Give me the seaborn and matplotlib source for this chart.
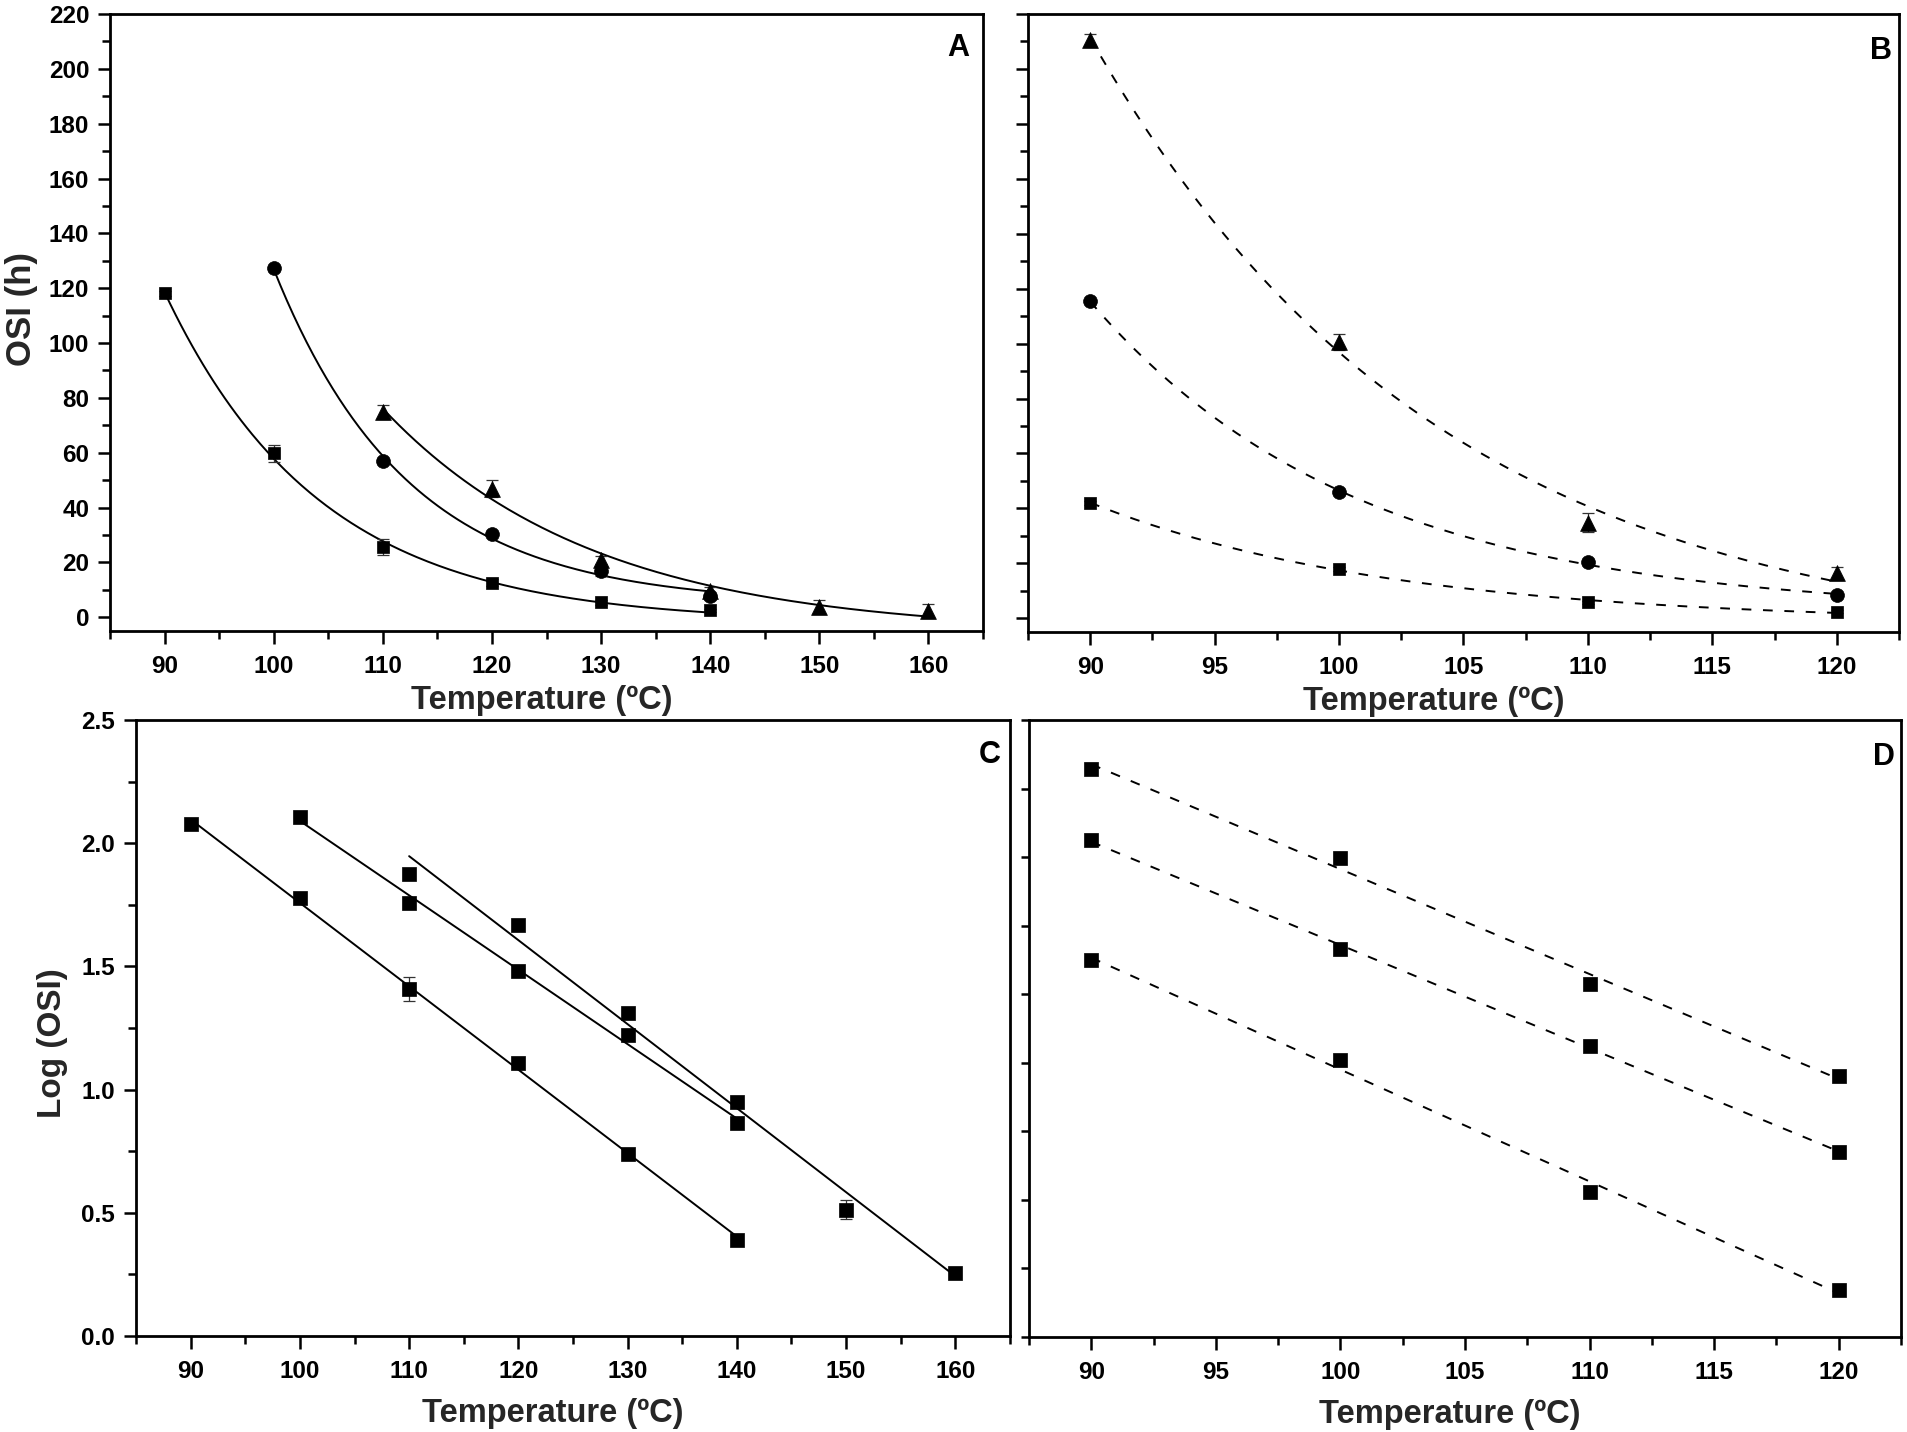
import numpy as np
import pandas as pd
import seaborn as sns
import matplotlib.pyplot as plt
from matplotlib.ticker import MultipleLocator

# ---- panel A : OSI (h) vs temperature, three oils ----
temp_sq_a = [90, 100, 110, 120, 130, 140]
osi_sq_a = [118.1, 59.8, 25.7, 12.6, 5.4, 2.5]
err_sq_a = [1.0, 3.0, 3.0, 1.2, 0.8, 0.6]
temp_ci_a = [100, 110, 120, 130, 140]
osi_ci_a = [127.4, 57.0, 30.5, 16.8, 7.6]
err_ci_a = [1.0, 1.2, 1.0, 1.8, 1.2]
temp_tr_a = [110, 120, 130, 140, 150, 160]
osi_tr_a = [74.9, 46.9, 21.0, 9.7, 3.9, 2.2]
err_tr_a = [2.5, 3.0, 1.5, 1.5, 2.5, 2.5]

# ---- panel B ----
temp_b = [90, 100, 110, 120]
osi_sq_b = [42.0, 17.9, 5.8, 2.4]
osi_ci_b = [115.4, 46.0, 20.5, 8.3]
osi_tr_b = [210.6, 100.5, 34.8, 16.3]
err_sq_b = [0.8, 0.8, 0.6, 0.5]
err_ci_b = [1.0, 1.0, 1.0, 0.8]
err_tr_b = [2.0, 3.0, 3.5, 2.5]

# ---- panel C : log(OSI) of panel A ----
log_sq_c = [2.077, 1.777, 1.408, 1.109, 0.740, 0.389]
log_ci_c = [2.107, 1.756, 1.483, 1.222, 0.864]
log_tr_c = [1.875, 1.669, 1.310, 0.949, 0.513, 0.254]
err_sq_c = [0.01, 0.02, 0.05, 0.02, 0.01, 0.01]
err_ci_c = [0.01, 0.02, 0.02, 0.02, 0.02]
err_tr_c = [0.02, 0.02, 0.02, 0.02, 0.04, 0.02]

# ---- panel D : log(OSI) of panel B ----
log_tr_d = [2.323, 1.997, 1.538, 1.201]
log_ci_d = [2.063, 1.664, 1.312, 0.926]
log_sq_d = [1.623, 1.259, 0.780, 0.423]
err_tr_d = [0.02, 0.02, 0.02, 0.02]

sns.set_theme(style='ticks')
plt.rcParams['font.family'] = ['Liberation Sans', 'DejaVu Sans']
plt.rcParams['font.weight'] = 'bold'
plt.rcParams['axes.labelweight'] = 'bold'
plt.rcParams['axes.linewidth'] = 2.0
plt.rcParams['axes.edgecolor'] = 'black'

W, H = 1908, 1432
def box(l, t, r, b):
    return [l / W, 1 - b / H, (r - l) / W, (b - t) / H]

fig = plt.figure(figsize=(W / 100, H / 100), dpi=100)
ax_a = fig.add_axes(box(110, 14, 983, 631))
ax_b = fig.add_axes(box(1028, 14, 1899, 632))
ax_c = fig.add_axes(box(136, 720, 1010, 1336))
ax_d = fig.add_axes(box(1029, 720, 1901, 1337))

dash = (0, (5, 6))


def exp_curve(x, y):
    # y0 + A*exp(b*x) fit: scan b, solve y0 and A by least squares
    x = np.asarray(x, float)
    y = np.asarray(y, float)
    best = None
    for b in np.linspace(-0.4, -0.005, 4000):
        X = np.column_stack([np.ones_like(x), np.exp(b * (x - x[0]))])
        coef = np.linalg.lstsq(X, y, rcond=None)[0]
        r = np.sum((X @ coef - y) ** 2)
        if best is None or r < best[0]:
            best = (r, b, coef)
    _, b, coef = best
    grid = np.linspace(x.min(), x.max(), 200)
    return pd.DataFrame({'t': grid,
                         'osi': coef[0] + coef[1] * np.exp(b * (grid - x[0]))})


def points(ax, x, y, err, marker, s):
    ax.errorbar(x, y, yerr=err, fmt='none', ecolor='#333333', elinewidth=0.9,
                capsize=4, capthick=0.9, zorder=3)
    sns.scatterplot(x=x, y=y, ax=ax, marker=marker, s=s, color='black',
                    edgecolor='black', linewidth=0.5, zorder=4)


# A
for x, y, e, m, s in [(temp_sq_a, osi_sq_a, err_sq_a, 's', 85),
                      (temp_ci_a, osi_ci_a, err_ci_a, 'o', 100),
                      (temp_tr_a, osi_tr_a, err_tr_a, '^', 130)]:
    sns.lineplot(data=exp_curve(x, y), x='t', y='osi', ax=ax_a, color='black',
                 lw=1.4, estimator=None)
    points(ax_a, x, y, e, m, s)

# B
for y, e, m, s in [(osi_sq_b, err_sq_b, 's', 85),
                   (osi_ci_b, err_ci_b, 'o', 100),
                   (osi_tr_b, err_tr_b, '^', 130)]:
    sns.lineplot(data=exp_curve(temp_b, y), x='t', y='osi', ax=ax_b,
                 color='black', lw=1.4, ls=dash, estimator=None)
    points(ax_b, temp_b, y, e, m, s)

# C
for x, y, e in [(temp_sq_a, log_sq_c, err_sq_c),
                (temp_ci_a, log_ci_c, err_ci_c),
                (temp_tr_a, log_tr_c, err_tr_c)]:
    sns.regplot(x=np.array(x, float), y=np.array(y), ax=ax_c, scatter=False,
                ci=None, color='black', line_kws={'lw': 1.4})
    points(ax_c, x, y, e, 's', 110)

# D
for y in [log_tr_d, log_ci_d, log_sq_d]:
    sns.regplot(x=np.array(temp_b, float), y=np.array(y), ax=ax_d,
                scatter=False, ci=None, color='black',
                line_kws={'lw': 1.4, 'ls': dash})
    points(ax_d, temp_b, y, err_tr_d, 's', 105)

# axes limits and ticks
for ax in (ax_a, ax_c):
    ax.set_xlim(85, 165)
    ax.xaxis.set_major_locator(MultipleLocator(10))
    ax.xaxis.set_minor_locator(MultipleLocator(5))
for ax in (ax_b, ax_d):
    ax.set_xlim(87.5, 122.5)
    ax.xaxis.set_major_locator(MultipleLocator(5))
    ax.xaxis.set_minor_locator(MultipleLocator(2.5))
for ax in (ax_a, ax_b):
    ax.set_ylim(-5, 220)
    ax.yaxis.set_major_locator(MultipleLocator(20))
    ax.yaxis.set_minor_locator(MultipleLocator(10))
ax_c.set_ylim(0, 2.5)
ax_c.yaxis.set_major_locator(MultipleLocator(0.5))
ax_c.yaxis.set_minor_locator(MultipleLocator(0.25))
ax_d.set_ylim(0.25, 2.5)
ax_d.yaxis.set_major_locator(MultipleLocator(0.25))

for ax in (ax_a, ax_b, ax_c, ax_d):
    for sp in ax.spines.values():
        sp.set_visible(True)
        sp.set_linewidth(2.0)
        sp.set_color('black')
    ax.tick_params(which='major', direction='out', length=9, width=1.8,
                   labelsize=17.5, pad=6, color='black', labelcolor='black')
    ax.tick_params(which='minor', direction='out', length=5.5, width=1.8,
                   color='black')
    ax.tick_params(axis='x', which='major', pad=8)
    ax.set_xlabel('Temperature (ºC)', fontsize=23.5, fontweight='bold')
    ax.set_ylabel('')
    for lab in ax.get_xticklabels() + ax.get_yticklabels():
        lab.set_fontweight('bold')

ax_b.tick_params(axis='y', labelleft=False)
ax_d.tick_params(axis='y', which='major', length=5.5, labelleft=False)

ax_a.set_ylabel('OSI (h)', fontsize=25, fontweight='bold')
ax_c.set_ylabel('Log (OSI)', fontsize=24, fontweight='bold')
ax_a.yaxis.set_label_coords(-0.083, 0.522)
ax_c.yaxis.set_label_coords(-0.078, 0.476)

ax_a.xaxis.set_label_coords(0.494, -0.088)
ax_b.xaxis.set_label_coords(0.466, -0.088)
ax_c.xaxis.set_label_coords(0.477, -0.100)
ax_d.xaxis.set_label_coords(0.483, -0.100)

for ax, letter, px, py in [(ax_a, 'A', 0.984, 0.970), (ax_b, 'B', 0.992, 0.964),
                           (ax_c, 'C', 0.989, 0.968), (ax_d, 'D', 0.993, 0.965)]:
    ax.text(px, py, letter, transform=ax.transAxes, ha='right', va='top',
            fontsize=22, fontweight='bold', color='black')

fig.savefig('out.png', dpi=100)
plt.close('all')
